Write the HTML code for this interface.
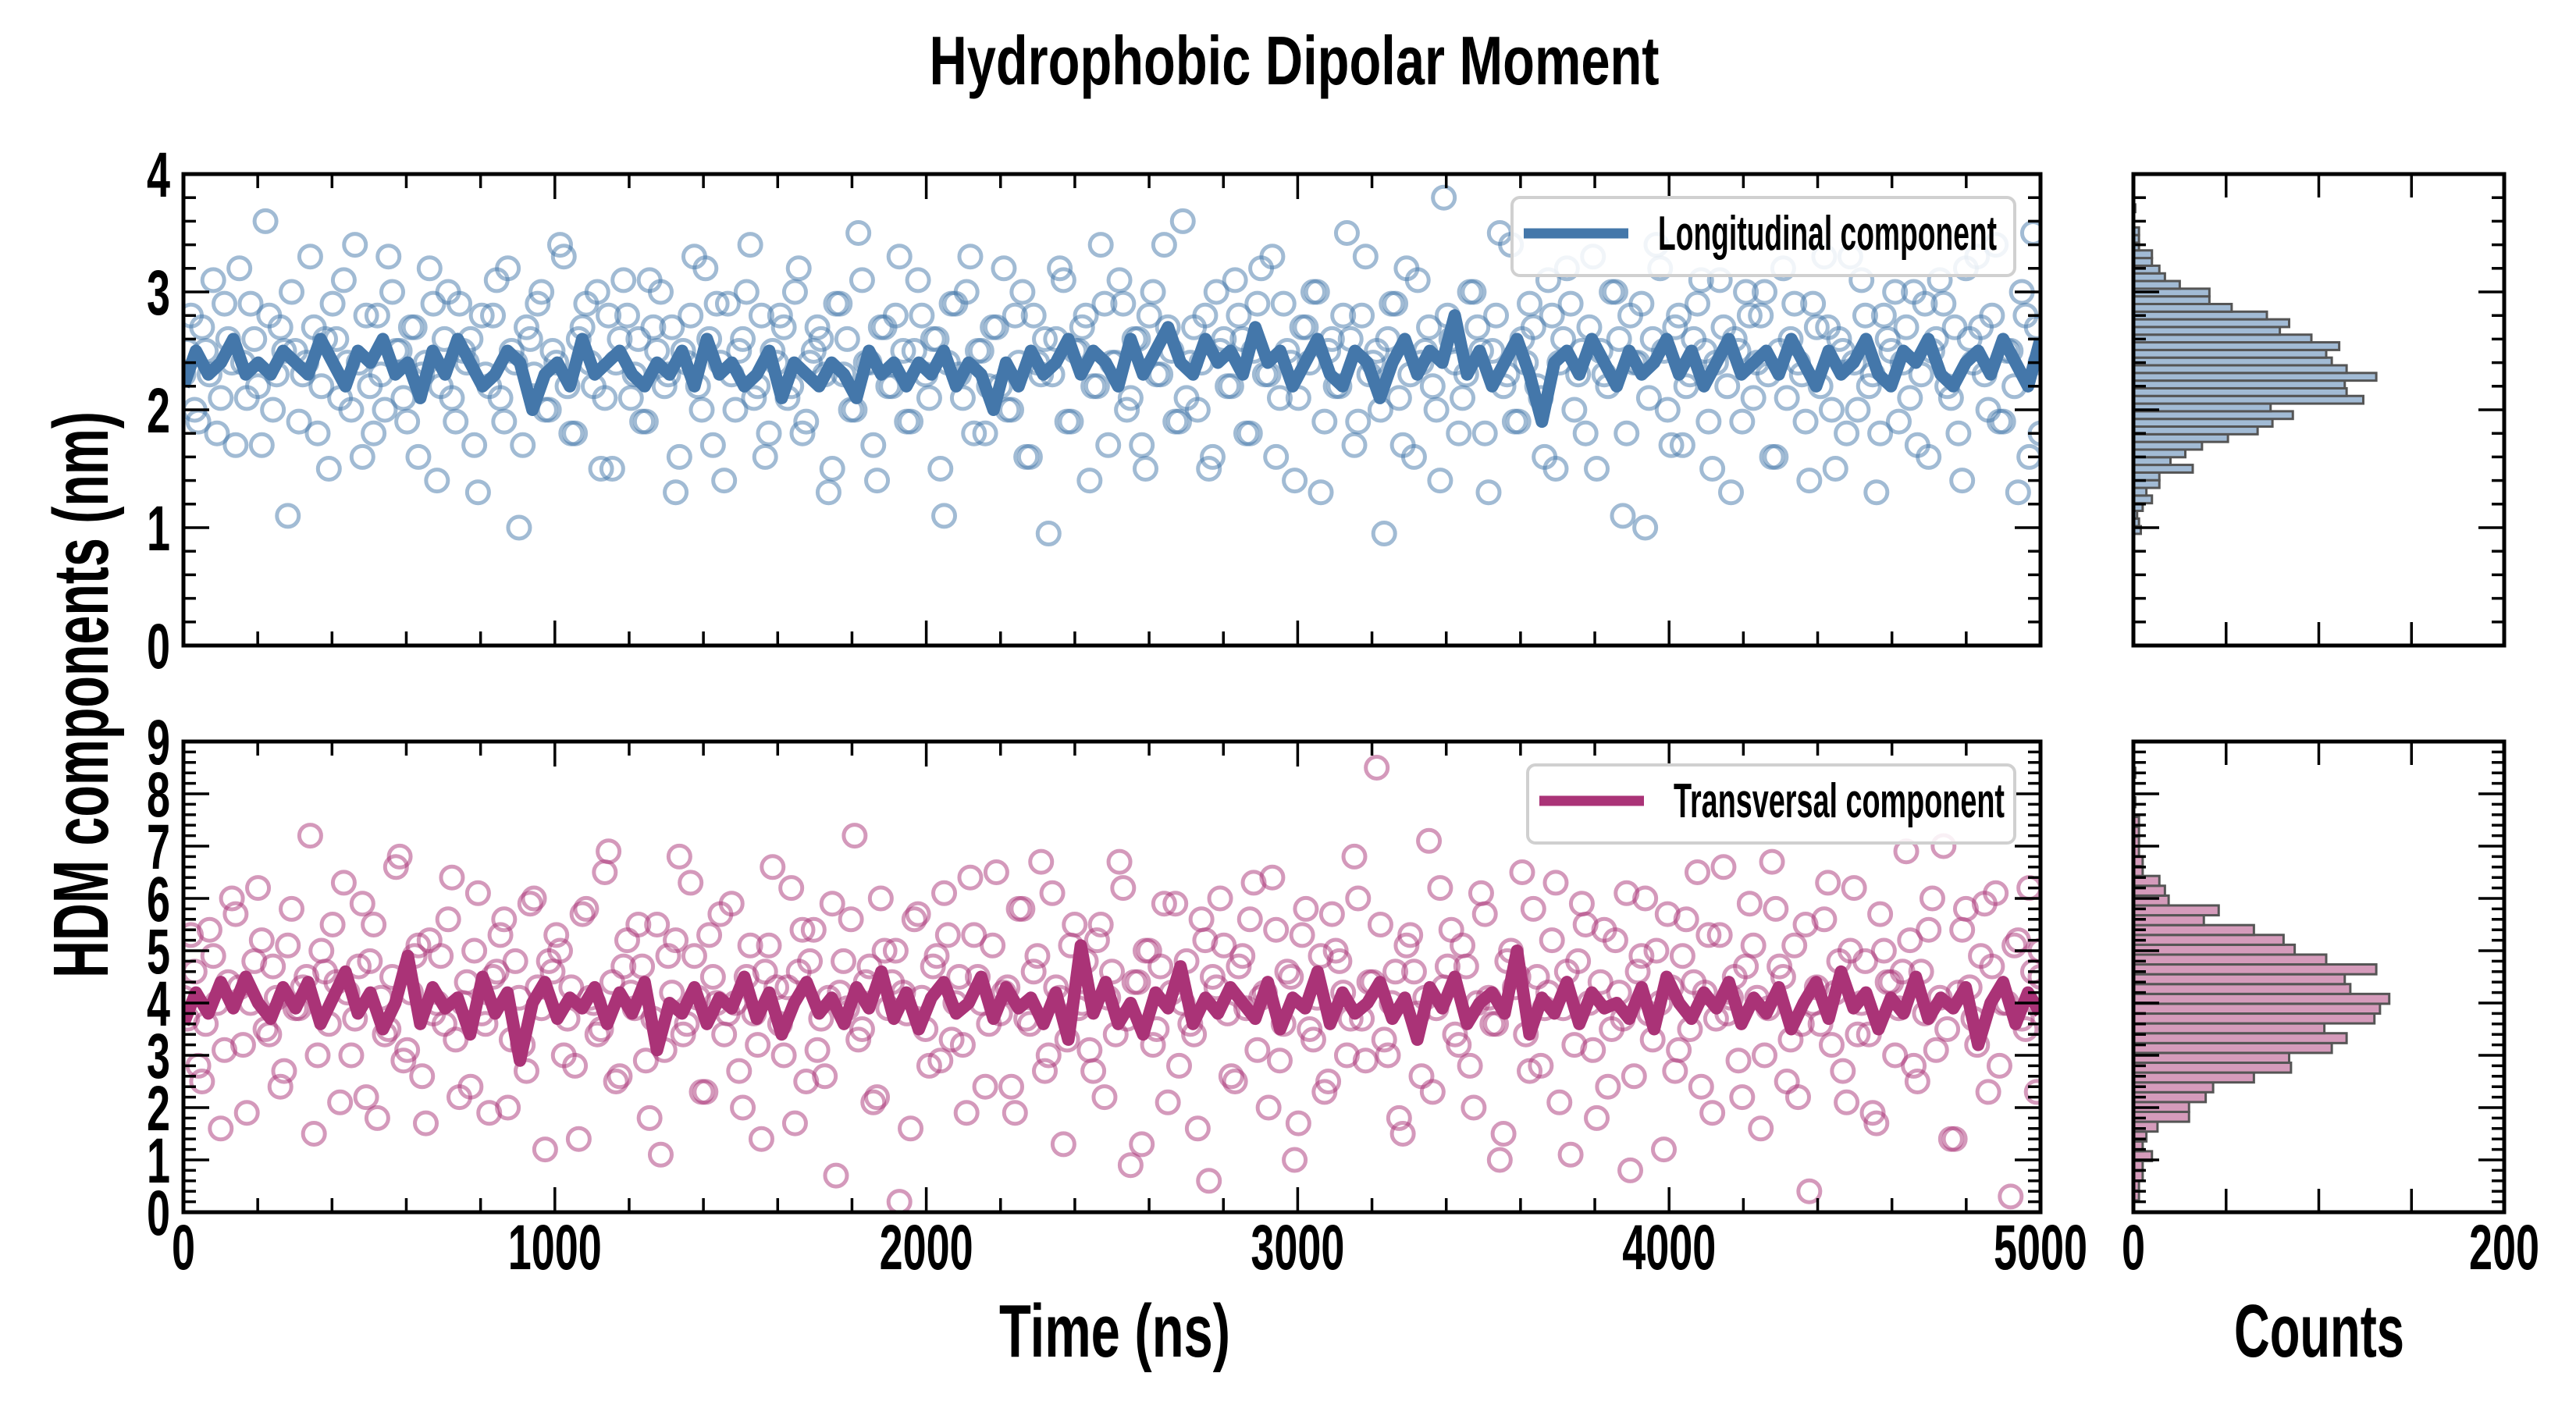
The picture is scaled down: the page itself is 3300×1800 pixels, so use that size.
<!DOCTYPE html>
<html><head><meta charset="utf-8"><style>
html,body{margin:0;padding:0;background:#fff;}
svg{display:block;font-family:"Liberation Sans Narrow","Liberation Sans",sans-serif;font-weight:bold;}
</style></head><body>
<svg id="chart" width="3300" height="1800" viewBox="0 0 3300 1800" xmlns="http://www.w3.org/2000/svg">
<rect width="3300" height="1800" fill="#fff"/>
<text x="1658" y="108" font-size="88" text-anchor="middle" textLength="935" lengthAdjust="spacingAndGlyphs">Hydrophobic Dipolar Moment</text>
<text transform="translate(138,890) rotate(-90)" font-size="100" text-anchor="middle" textLength="726" lengthAdjust="spacingAndGlyphs">HDM components (nm)</text>
<text x="1428" y="1738" font-size="96" text-anchor="middle" textLength="296" lengthAdjust="spacingAndGlyphs">Time (ns)</text>
<text x="2971" y="1738" font-size="96" text-anchor="middle" textLength="218" lengthAdjust="spacingAndGlyphs">Counts</text>
<g id="plots"></g>
</svg>
<script>
const longScatter=[2.3,2.8,1.9,2.5,3.1,2.1,2.6,1.7,2.4,2.9,2.2,3.6,2.0,2.7,1.1,2.5,2.3,3.3,1.8,2.6,2.9,2.1,2.4,3.4,1.6,2.2,2.8,2.0,3.0,2.5,1.9,2.7,2.3,3.2,1.4,2.6,2.1,2.9,2.4,1.7,2.8,2.2,3.1,1.9,2.5,1.0,2.7,2.3,3.0,2.0,2.4,3.3,1.8,2.6,2.9,2.2,1.5,2.8,2.4,3.1,2.1,2.6,1.9,2.7,3.0,2.3,1.3,2.5,2.8,2.2,3.2,1.7,2.4,2.9,2.0,2.6,3.4,2.2,1.6,2.5,2.8,2.1,3.0,1.8,2.4,2.7,2.3,1.5,2.9,2.6,2.0,3.1,2.4,1.4,2.7,2.2,3.3,1.9,2.5,2.8,2.1,2.6,1.1,2.9,2.3,3.0,1.8,2.5,2.2,2.7,3.2,2.0,2.4,1.6,2.8,2.3,0.95,2.6,3.1,1.9,2.5,2.8,2.2,3.4,1.7,2.4,2.9,2.1,2.6,1.5,3.0,2.3,2.7,1.9,3.6,2.4,2.0,2.8,1.6,2.5,2.2,3.1,2.6,1.8,2.9,2.3,3.3,2.1,2.5,1.4,2.7,2.4,3.0,1.9,2.6,2.2,3.5,1.7,2.8,2.3,2.5,0.95,2.9,2.1,3.2,1.6,2.4,2.7,2.0,3.8,2.6,1.8,2.3,3.0,2.5,1.3,2.8,2.2,3.4,1.9,2.4,2.7,2.1,3.1,1.5,2.6,2.9,2.3,1.8,3.3,2.5,2.2,3.0,1.1,2.8,2.4,1.0,2.6,3.2,2.0,2.7,1.7,2.3,2.9,2.5,1.5,3.1,2.2,2.6,1.9,2.8,2.4,3.0,1.6,2.5,2.1,2.9,2.3,1.4,2.7,3.3,2.0,2.6,1.8,2.4,3.1,2.2,1.3,2.8,2.5,1.9,2.7,3.0,2.3,1.6,2.6,2.9,2.1,1.8,3.2,2.4,2.7,2.0,3.4,1.9,2.5,1.3,2.8,3.5,1.8];
const longScatter2=[2.5,2.0,2.7,2.3,1.8,2.9,2.4,3.2,2.1,2.6,1.7,2.8,2.3,2.5,3.0,1.9,2.4,2.7,2.2,1.5,2.6,3.1,2.0,2.4,2.8,1.8,2.3,3.3,2.5,2.1,2.7,1.6,2.4,2.9,2.2,3.0,1.9,2.5,2.6,1.3,2.3,2.8,2.1,3.2,2.4,1.7,2.6,2.9,2.0,2.5,3.4,2.2,1.8,2.7,2.4,3.0,2.1,1.5,2.6,2.8,2.3,1.9,3.1,2.5,2.2,2.7,1.6,2.4,3.3,2.0,2.6,2.9,1.4,2.3,2.5,3.0,2.1,2.8,1.8,2.4,2.7,2.2,3.2,1.9,2.5,2.6,1.3,2.9,2.3,2.0,3.5,2.4,1.7,2.7,2.2,2.8,2.5,1.9,3.1,2.3,2.6,1.5,2.4,2.9,2.1,3.3,2.5,1.8,2.7,2.2,2.0,2.8,3.0,1.6,2.4,2.6,2.3,3.2,1.9,2.5,2.7,1.4,2.2,2.9,2.4,3.1,2.0,2.6,1.7,2.8,2.3,3.4,2.5,1.9,2.1,2.7,2.4,1.5,3.0,2.6,2.2,2.8,1.8,2.5,3.2,2.3,1.6,2.9,2.4,2.1,2.7,3.0,1.3,2.5,2.2,2.8,2.6,1.9,3.3,2.4,2.0,2.6,2.9,1.7,2.3,3.1,2.5,2.2,1.4,2.8,2.4,2.1,3.0,2.7,1.8,2.5,3.5,2.3,1.9,2.6,2.9,2.2,1.6,2.8,2.4,3.2,2.0,2.5,2.7,1.5,2.3,3.0,2.6,1.8,2.4,2.9,2.1,3.4,2.5,1.7,2.8,2.2,2.6,3.1,1.9,2.4,2.7,1.3,2.5,3.0,2.1,2.8,2.3,1.6,3.2,2.6,2.4,1.9,2.9,2.2,2.7,1.5,2.5,3.3,2.0,2.8,2.3,1.8,2.6,3.0,2.4,2.1,1.7,2.9,2.5,3.1,2.2,2.7,1.4,2.6,3.3,2.3,2.8,1.9,2.5,2.2,3.0,1.6,2.7,2.4];
const transScatter=[4.1,5.3,2.8,3.6,4.9,1.6,4.4,5.7,3.2,4.0,6.2,3.5,4.7,2.4,5.1,3.9,4.3,7.2,3.0,4.6,5.5,2.1,4.2,3.7,5.9,4.8,1.8,3.4,4.5,6.8,3.1,4.9,2.6,5.2,4.0,3.6,6.4,2.2,4.4,5.0,3.8,1.9,4.6,5.6,3.3,4.1,2.7,6.0,3.9,4.8,5.3,3.0,4.3,1.4,5.8,4.0,3.5,6.9,2.5,4.7,4.2,5.5,2.9,3.7,1.1,4.9,5.2,3.4,6.3,4.1,2.3,4.5,5.7,3.8,4.0,2.0,5.1,3.2,4.6,6.6,3.6,4.3,1.7,5.4,4.8,3.1,2.6,5.9,4.2,3.9,7.2,3.5,4.7,2.2,5.0,4.4,0.2,3.8,5.6,4.1,2.8,4.9,6.1,3.3,4.5,1.9,5.3,4.0,3.6,6.5,4.2,2.4,5.8,3.7,4.6,6.7,3.0,4.3,1.3,5.1,3.9,4.8,2.7,5.5,4.1,3.4,6.2,0.9,4.4,5.0,3.2,4.7,2.1,5.9,4.0,3.6,1.6,5.2,4.5,6.0,3.8,2.5,4.9,5.6,3.1,4.2,6.4,2.9,4.6,1.0,5.3,3.5,4.1,2.3,5.7,4.8,3.0,6.8,3.7,4.4,8.5,3.3,4.0,1.8,5.1,4.6,2.6,7.1,3.9,4.3,5.4,3.2,4.7,2.0,6.1,4.1,3.6,1.5,5.0,4.5,3.4,5.8,2.8,4.2,6.3,3.9,1.1,4.8,5.5,3.1,4.4,2.4,5.2,3.7,0.8,4.6,6.0,3.3,4.0,5.7,2.7,4.9,3.5,6.5,4.2,1.9,5.3,3.8,4.5,2.2,5.9,4.1,3.0,6.7,4.7,2.5,5.1,3.6,0.4,4.3,5.6,3.2,4.8,2.1,6.2,4.0,3.4,1.7,5.0,4.4,3.9,6.9,2.8,4.6,5.4,3.1,7.0,1.4,4.2,5.8,3.7,4.9,2.3,6.1,4.0,0.3,5.2,3.5,4.6,5.0];
const transScatter2=[3.7,4.6,2.5,5.4,4.0,3.1,6.0,4.3,1.9,4.8,5.2,3.4,4.1,2.7,5.8,3.9,4.5,1.5,5.0,3.6,4.4,6.3,3.0,4.7,2.2,5.5,4.1,3.5,6.6,2.9,4.2,5.1,1.7,3.8,4.9,5.6,3.3,4.0,2.4,6.1,3.6,4.5,5.3,2.0,4.8,3.2,5.9,4.3,1.2,4.6,5.0,3.7,2.8,5.7,4.1,3.4,6.5,4.4,2.6,5.2,3.9,4.7,1.8,5.5,3.1,4.2,6.8,3.6,4.9,2.3,5.3,4.0,3.4,5.9,2.7,4.5,3.8,1.4,5.1,4.3,3.0,6.2,4.6,2.5,5.4,3.7,4.1,0.7,4.8,5.6,3.3,4.4,2.1,6.0,3.9,5.0,4.2,1.6,5.7,3.5,4.7,2.9,5.3,4.0,3.2,6.4,4.5,2.4,5.1,3.8,4.3,1.9,5.8,3.6,4.9,2.7,6.1,4.1,3.3,5.5,4.0,3.1,5.2,2.2,4.6,6.7,3.7,4.4,1.3,5.0,3.5,5.9,4.2,2.8,4.8,3.4,5.6,0.6,4.3,5.1,2.6,4.7,3.9,6.3,4.1,2.0,5.4,3.6,4.5,1.7,5.8,3.3,4.9,2.5,5.0,4.2,3.7,6.0,2.9,4.4,5.5,3.0,4.6,1.5,5.3,3.8,4.1,2.3,6.2,4.7,3.4,5.1,2.8,4.0,5.7,3.6,1.0,4.8,4.3,6.5,2.7,4.5,3.9,5.2,2.1,4.6,3.2,5.9,4.0,1.8,5.4,3.5,4.2,6.1,2.6,4.9,3.8,5.0,1.2,4.3,3.1,5.6,4.4,2.4,5.3,3.7,6.6,4.1,2.9,4.7,5.1,1.6,3.9,5.8,4.5,3.3,2.2,5.5,4.0,3.6,6.3,4.2,2.7,5.0,3.4,4.8,1.9,5.7,4.4,3.0,4.6,5.2,2.5,3.8,6.0,4.1,3.5,1.4,5.4,4.3,3.2,5.9,4.7,2.8,4.0,5.1,3.7,6.2,2.3,4.5];
const longLine=[2.2,2.5,2.3,2.4,2.6,2.3,2.4,2.3,2.5,2.4,2.3,2.6,2.4,2.2,2.5,2.4,2.6,2.3,2.4,2.1,2.5,2.3,2.6,2.4,2.2,2.3,2.5,2.4,2.0,2.3,2.4,2.2,2.6,2.3,2.4,2.5,2.3,2.2,2.4,2.3,2.5,2.2,2.6,2.3,2.4,2.2,2.3,2.5,2.1,2.4,2.3,2.2,2.4,2.3,2.1,2.5,2.3,2.4,2.2,2.4,2.3,2.5,2.2,2.4,2.3,2.0,2.4,2.2,2.5,2.3,2.4,2.6,2.3,2.5,2.4,2.2,2.6,2.3,2.5,2.7,2.4,2.3,2.6,2.4,2.5,2.3,2.7,2.4,2.5,2.2,2.4,2.6,2.3,2.2,2.5,2.4,2.1,2.4,2.6,2.3,2.5,2.4,2.8,2.3,2.5,2.2,2.4,2.6,2.3,1.9,2.4,2.5,2.3,2.6,2.4,2.2,2.5,2.3,2.4,2.6,2.3,2.5,2.2,2.4,2.6,2.3,2.4,2.5,2.3,2.6,2.4,2.2,2.5,2.3,2.4,2.6,2.3,2.2,2.5,2.4,2.6,2.3,2.2,2.4,2.5,2.3,2.6,2.4,2.2,2.6];
const transLine=[3.6,4.2,3.8,4.4,3.9,4.5,4.0,3.7,4.3,3.9,4.4,3.6,4.1,4.6,3.8,4.2,3.5,4.0,4.9,3.6,4.3,3.9,4.1,3.4,4.5,3.8,4.2,2.9,4.0,4.4,3.7,4.1,3.9,4.3,3.6,4.2,3.8,4.4,3.1,4.0,3.8,4.3,3.6,4.1,3.9,4.5,3.7,4.2,3.4,4.0,4.4,3.8,4.1,3.6,4.3,3.9,4.6,3.7,4.2,3.5,4.1,4.4,3.8,4.0,4.5,3.7,4.3,3.9,4.1,3.6,4.2,3.3,5.1,3.8,4.4,3.6,4.0,3.4,4.2,3.9,4.7,3.6,4.1,3.8,4.3,4.0,3.7,4.4,3.5,4.1,3.9,4.6,3.6,4.2,3.8,4.0,4.4,3.7,4.1,3.3,4.3,3.9,4.5,3.6,4.0,4.2,3.8,5.0,3.4,4.1,3.8,4.4,3.6,4.2,3.9,4.0,3.7,4.3,3.5,4.5,4.0,3.7,4.2,3.9,4.4,3.6,4.1,3.8,4.3,3.5,4.0,4.4,3.7,4.6,3.9,4.2,3.5,4.1,3.8,4.5,3.7,4.1,3.9,4.3,3.2,4.0,4.4,3.6,4.2,3.8];
const longHistStart=0.98, longHistWidth=0.065;
const longHistCounts=[4,3,2,5,10,7,14,14,32,20,28,37,51,67,75,86,74,124,115,114,131,115,107,104,111,96,79,84,72,53,41,41,25,17,14,10,10,3,3,3,0,0,1];
const transHistStart=0.32, transHistWidth=0.188;
const transHistCounts=[3,3,5,5,10,5,7,13,30,30,39,43,65,85,84,107,115,103,130,133,138,117,114,131,104,87,81,65,38,46,19,17,14,5,5,3,3,3,3,0,1,0,0,1];
const timeTicks=["0","1000","2000","3000","4000","5000"];
const countTicks=["0","200"];

const NS="http://www.w3.org/2000/svg";
const root=document.getElementById('plots');
function mk(tag,attrs,parent){const e=document.createElementNS(NS,tag);for(const k in attrs)e.setAttribute(k,attrs[k]);(parent||root).appendChild(e);return e;}
const X0=235,X1=2614,HX0=2733,HX1=3208;
const panels=[
 {top:223,bot:827,ymax:4,scatter:longScatter,scatter2:longScatter2,line:longLine,hs:longHistStart,hw:longHistWidth,hc:longHistCounts,
  col:"#4477aa",hfill:"#a2bbd5",label:"Longitudinal component",lx:1937,ly:253,lw:644,tl:434,name:"longitudinal",labels:false},
 {top:950,bot:1553,ymax:9,scatter:transScatter,scatter2:transScatter2,line:transLine,hs:transHistStart,hw:transHistWidth,hc:transHistCounts,
  col:"#aa3377",hfill:"#d59bbb",label:"Transversal component",lx:1957,ly:980,lw:624,tl:424,name:"transversal",labels:true}
];
function tickLabel(txt,x,y,anchor,nm){
  const t=mk('text',{x:x,y:y,'font-size':82,'text-anchor':anchor,textLength:30*txt.length,lengthAdjust:'spacingAndGlyphs'});
  
  
  t.textContent=txt;return t;
}
panels.forEach(p=>{
  const yS=v=>p.bot-(v/p.ymax)*(p.bot-p.top);
  const xS=v=>X0+(v/5000)*(X1-X0);
  const cS=v=>HX0+(v/200)*(HX1-HX0);
  const g=mk('g',{});
  
  
  const clip=mk('clipPath',{id:'clip-'+p.name},g);
  mk('rect',{x:X0,y:p.top,width:X1-X0,height:p.bot-p.top},clip);
  const pts=mk('g',{'clip-path':'url(#clip-'+p.name+')',fill:'none',stroke:p.col,'stroke-width':5,'stroke-opacity':0.5},g);
  
  
  const n=p.scatter.length, step=5000/(n-1);
  p.scatter.forEach((v,i)=>{
    const c=mk('circle',{cx:xS(i*step),cy:yS(v),r:14},pts);
    
    
  });
  p.scatter2.forEach((v,i)=>{
    const c=mk('circle',{cx:xS(Math.min(5000,(i+0.5)*step)),cy:yS(v),r:14},pts);
    
    
  });
  const m=p.line.length;
  const d=p.line.map((v,i)=>(i?'L':'M')+xS(i*5000/(m-1)).toFixed(1)+','+yS(v).toFixed(1)).join('');
  const ln=mk('path',{d:d,fill:'none',stroke:p.col,'stroke-width':16,'stroke-linejoin':'round','clip-path':'url(#clip-'+p.name+')'},g);
  
  
  const hg=mk('g',{});
  
  
  p.hc.forEach((c,i)=>{
    if(!c)return;
    const lo=p.hs+i*p.hw-p.hw/2, hi=lo+p.hw;
    const r=mk('rect',{x:HX0,y:yS(hi),width:cS(c)-HX0,height:yS(lo)-yS(hi),fill:p.hfill,stroke:'#555','stroke-width':3},hg);
    
    
  });
  const tk=mk('g',{stroke:'#000','stroke-width':3.5});
  
  
  const nsteps=Math.round(p.ymax/0.2);
  for(let k=0;k<=nsteps;k++){
    const v=k*0.2, y=yS(v), major=(k%5===0), L=major?33:16;
    [[X0,1],[X1,-1],[HX0,1],[HX1,-1]].forEach(([x,s])=>mk('line',{x1:x,y1:y,x2:x+s*L,y2:y},tk));
    if(major) tickLabel(String(k/5),218,y+29,'end',p.name+'-y-tick-label');
  }
  for(let t=0;t<=5000;t+=200){
    const x=xS(t), L=(t%1000===0)?32:18;
    mk('line',{x1:x,y1:p.top,x2:x,y2:p.top+L},tk);
    mk('line',{x1:x,y1:p.bot,x2:x,y2:p.bot-L},tk);
  }
  for(let c=0;c<=200;c+=50){
    const x=cS(c);
    mk('line',{x1:x,y1:p.top,x2:x,y2:p.top+30},tk);
    mk('line',{x1:x,y1:p.bot,x2:x,y2:p.bot-30},tk);
  }
  const fr1=mk('rect',{x:X0,y:p.top,width:X1-X0,height:p.bot-p.top,fill:'none',stroke:'#000','stroke-width':5});
  
  
  const fr2=mk('rect',{x:HX0,y:p.top,width:HX1-HX0,height:p.bot-p.top,fill:'none',stroke:'#000','stroke-width':5});
  
  
  if(p.labels){
    timeTicks.forEach(s=>tickLabel(s,xS(+s),p.bot+73,'middle','x-tick-label'));
    countTicks.forEach(s=>tickLabel(s,cS(+s),p.bot+73,'middle','count-tick-label'));
  }
  const lg=mk('g',{});
  
  
  mk('rect',{x:p.lx,y:p.ly,width:p.lw,height:100,rx:10,fill:'#fff','fill-opacity':0.85,stroke:'#d0d0d0','stroke-width':4},lg);
  const sw=mk('line',{x1:p.lx+15,y1:p.ly+46,x2:p.lx+149,y2:p.ly+46,stroke:p.col,'stroke-width':13},lg);
  
  
  const lt=mk('text',{x:p.lx+187,y:p.ly+67,'font-size':62,textLength:p.tl,lengthAdjust:'spacingAndGlyphs'},lg);
  
  
  lt.textContent=p.label;
});
</script>
</body></html>
